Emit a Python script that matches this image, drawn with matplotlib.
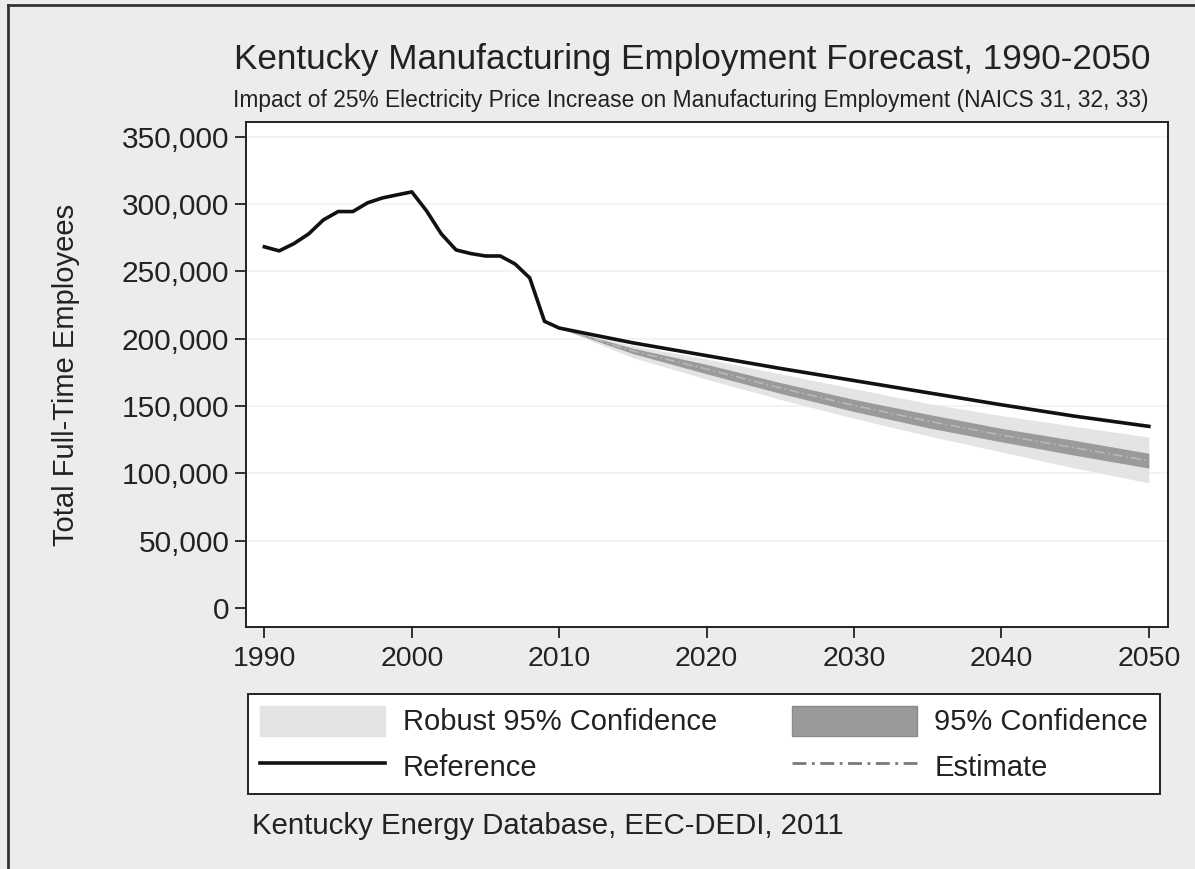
import matplotlib.pyplot as plt
import matplotlib.lines as mlines
import matplotlib.patches as mpatches
from matplotlib.ticker import FuncFormatter

plt.rcParams["font.family"] = ["Liberation Sans", "DejaVu Sans"]

# -------------------------------------------------
# Data
# -------------------------------------------------

hist_years = list(range(1990, 2011))
hist_values = [268300, 265300, 270700, 277900, 288300, 294500, 294500, 301000,
               304600, 306900, 309100, 295000, 277900, 266000, 263300, 261500,
               261500, 255600, 245200, 213000, 208000]

fc_years = [2010, 2015, 2020, 2025, 2030, 2035, 2040, 2045, 2050]
ref_values = [208000, 197000, 187500, 178000, 169000, 160000, 151000, 142500, 135000]
est_values = [208000, 191000, 177500, 163500, 150500, 139000, 128500, 119000, 109500]
ci_low = [208000, 189000, 174000, 159500, 146000, 134000, 123500, 113500, 104000]
ci_high = [208000, 193000, 181000, 167500, 155000, 144000, 133500, 124500, 115000]
robust_low = [208000, 186000, 170000, 155000, 141000, 128000, 116000, 104000, 93000]
robust_high = [208000, 195000, 185000, 174000, 163000, 152000, 143000, 135000, 127000]

x_ticks = [1990, 2000, 2010, 2020, 2030, 2040, 2050]
y_ticks = [0, 50000, 100000, 150000, 200000, 250000, 300000, 350000]

# -------------------------------------------------
# Figure
# -------------------------------------------------

BG = "#ececec"
TXT = "#222222"
fig = plt.figure(figsize=(11.95, 8.69), dpi=100, facecolor=BG)
W, H = 1195, 869

ax = fig.add_axes([246 / W, 1 - 627 / H, (1168 - 246) / W, (627 - 122) / H])
ax.set_facecolor("white")

ax.fill_between(fc_years, robust_low, robust_high, color="#e4e4e4", lw=0, zorder=1)
ax.fill_between(fc_years, ci_low, ci_high, color="#9a9a9a", lw=0, zorder=2)
ax.plot(fc_years, est_values, color="#b8b8b8", lw=1.2, ls=(0, (6, 2, 1, 2)), zorder=3)
ax.plot(hist_years + fc_years[1:], hist_values + ref_values[1:],
        color="#111111", lw=2.6, zorder=4)

ax.set_xlim(1988.75, 2051.3)
ax.set_ylim(-14000, 361000)
ax.set_xticks(x_ticks)
ax.set_yticks(y_ticks)
ax.yaxis.set_major_formatter(FuncFormatter(lambda v, p: f"{int(v):,}"))
ax.tick_params(length=8, width=1.3, color=TXT, labelcolor=TXT, pad=4)
ax.tick_params(axis="y", labelsize=21.5)
ax.tick_params(axis="x", labelsize=20.5, pad=6)

for y in y_ticks[1:]:
    ax.axhline(y, color="#f1f1f1", lw=1.2, zorder=0)

for s in ax.spines.values():
    s.set_linewidth(1.4)
    s.set_color(TXT)

ax.set_ylabel("Total Full-Time Employees", fontsize=21, color=TXT, labelpad=30)

fig.text(692 / W, 1 - 60 / H, "Kentucky Manufacturing Employment Forecast, 1990-2050",
         ha="center", va="center", fontsize=25.3, color=TXT)
fig.text(691 / W, 1 - 101 / H,
         "Impact of 25% Electricity Price Increase on Manufacturing Employment (NAICS 31, 32, 33)",
         ha="center", va="center", fontsize=16.4, color=TXT)

# -------------------------------------------------
# Legend
# -------------------------------------------------

handles = [
    mpatches.Patch(facecolor="#e4e4e4", edgecolor="#e4e4e4"),
    mlines.Line2D([], [], color="#111111", lw=2.6),
    mpatches.Patch(facecolor="#9a9a9a", edgecolor="#8a8a8a"),
    mlines.Line2D([], [], color="#7a7a7a", lw=2, ls=(0, (5, 2, 1, 2))),
]
labels = ["Robust 95% Confidence", "Reference", "95% Confidence", "Estimate"]
leg = fig.legend(handles, labels, ncol=2, loc="upper left",
                 bbox_to_anchor=(248 / W, 1 - 794 / H, (1160 - 248) / W, 100 / H),
                 mode="expand", fontsize=21, frameon=True, fancybox=False,
                 framealpha=1, facecolor="white",
                 handlelength=4.3, handleheight=1.2, handletextpad=0.6,
                 columnspacing=1.9, borderpad=0.4, labelspacing=0.5,
                 borderaxespad=0)
leg.get_frame().set_edgecolor(TXT)
leg.get_frame().set_linewidth(1.4)
for t in leg.get_texts():
    t.set_color(TXT)

fig.text(252 / W, 1 - 826 / H, "Kentucky Energy Database, EEC-DEDI, 2011",
         ha="left", va="center", fontsize=21.2, color=TXT)

# outer frame: left and top edges only
fig.add_artist(mlines.Line2D([8 / W, 8 / W], [0, 1 - 5 / H], color="#333333", lw=2,
                             transform=fig.transFigure))
fig.add_artist(mlines.Line2D([8 / W, 1], [1 - 5 / H, 1 - 5 / H], color="#333333", lw=2,
                             transform=fig.transFigure))

fig.savefig("out.png", dpi=100, facecolor=BG)
